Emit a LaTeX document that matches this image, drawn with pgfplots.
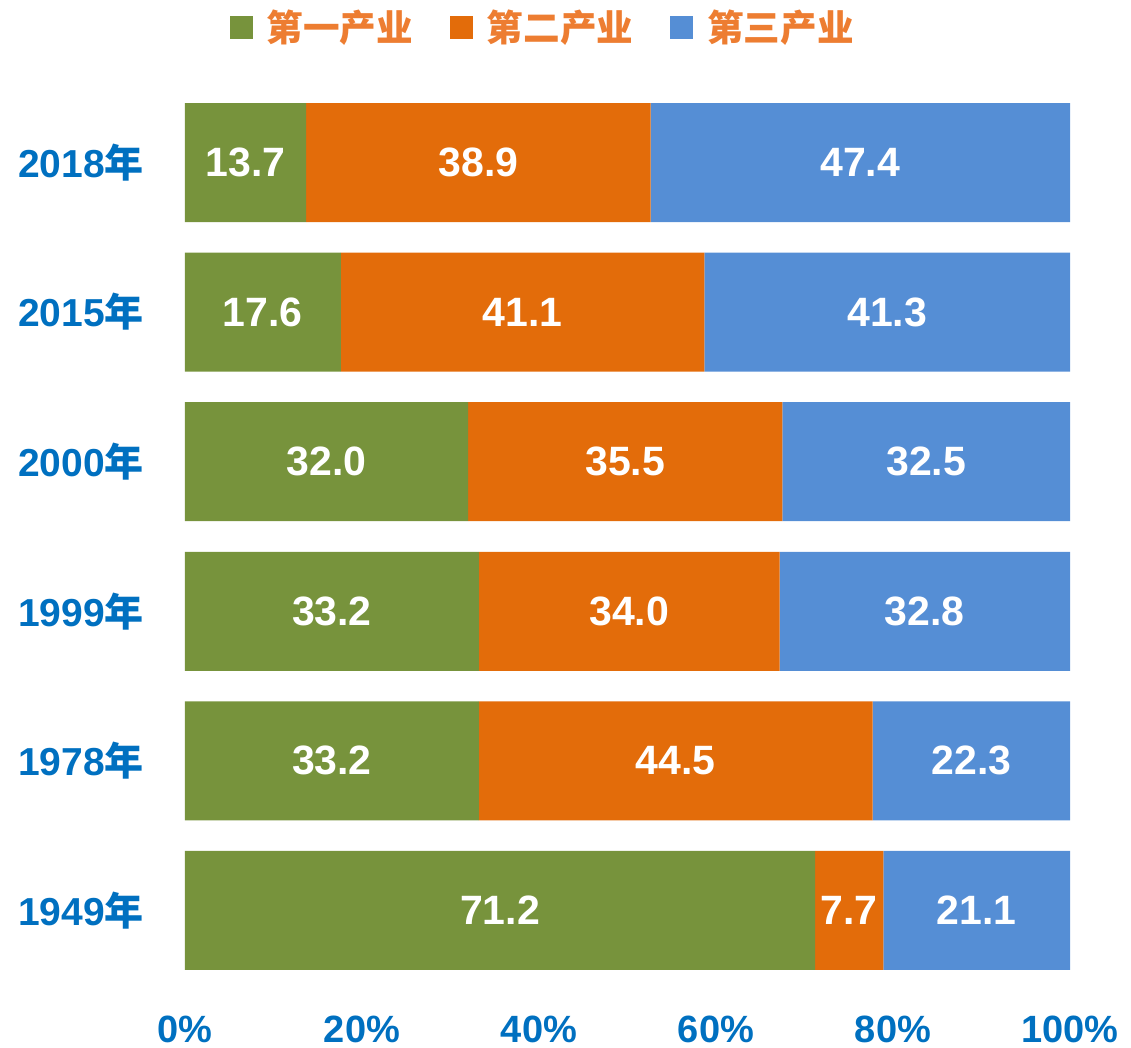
\documentclass[border=0pt]{standalone}
\usepackage{pgfplots}
\pgfplotsset{compat=1.18}
\usepackage{fontspec}
\setmainfont{Liberation Sans}
\newfontfamily\cjk{Noto Sans CJK SC}
\definecolor{cgreen}{HTML}{77933C}
\definecolor{corange}{HTML}{E36C0A}
\definecolor{cblue}{HTML}{558ED5}
\definecolor{lblue}{HTML}{0070C0}
\definecolor{legor}{HTML}{ED7D31}
\begin{document}
\begin{tikzpicture}
\path[use as bounding box] (-92.5pt,-31.35pt) rectangle (473pt,492.65pt);
\begin{axis}[
  at={(0,0)}, anchor=south west,
  scale only axis, width=442.5pt, height=448.8pt,
  xbar stacked, bar width=59.5pt,
  xmin=0, xmax=100, ymin=-0.5, ymax=5.5,
  axis line style={draw=none}, major tick length=0pt,
  xtick={0,20,40,60,80,100},
  xticklabels={0\%,20\%,40\%,60\%,80\%,100\%},
  xticklabel style={font=\fontsize{19}{19}\selectfont\bfseries, text=lblue, yshift=-12pt},
  ytick={0,1,2,3,4,5},
  yticklabels={1949{\cjk 年},1978{\cjk 年},1999{\cjk 年},2000{\cjk 年},2015{\cjk 年},2018{\cjk 年}},
  yticklabel style={font=\fontsize{19.5}{19.5}\selectfont\bfseries, text=lblue, xshift=-17pt},
  /pgf/number format/assume math mode=true,
  point meta=rawx,
  nodes near coords={\pgfmathprintnumber[fixed,fixed zerofill,precision=1]{\pgfplotspointmeta}},
  every node near coord/.append style={anchor=center, text=white, font=\fontsize{20.5}{20.5}\selectfont\bfseries},
  legend columns=-1,
  legend style={at={(0.403,1.067)}, anchor=center, draw=none, fill=none,
    font=\cjk\bfseries\fontsize{18.3}{18.3}\selectfont, text=legor,
    nodes={inner xsep=0pt},
    /tikz/every odd column/.append style={column sep=7pt},
    /tikz/every even column/.append style={column sep=18.5pt}},
]
\addplot[fill=cgreen, draw=none, legend image code/.code={\fill[cgreen] (0pt,-5.75pt) rectangle (11.5pt,5.75pt);}] coordinates {(71.2,0) (33.2,1) (33.2,2) (32.0,3) (17.6,4) (13.7,5)};
\addplot[fill=corange, draw=none, legend image code/.code={\fill[corange] (0pt,-5.75pt) rectangle (11.5pt,5.75pt);}] coordinates {(7.7,0) (44.5,1) (34.0,2) (35.5,3) (41.1,4) (38.9,5)};
\addplot[fill=cblue, draw=none, legend image code/.code={\fill[cblue] (0pt,-5.75pt) rectangle (11.5pt,5.75pt);}] coordinates {(21.1,0) (22.3,1) (32.8,2) (32.5,3) (41.3,4) (47.4,5)};
\legend{第一产业,第二产业,第三产业}
\end{axis}
\end{tikzpicture}
\end{document}
